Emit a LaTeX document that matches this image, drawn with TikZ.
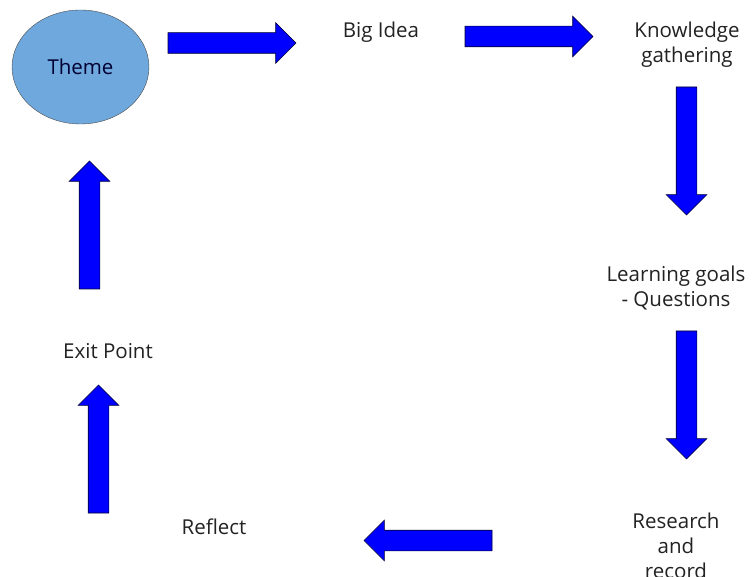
\documentclass[tikz,border=0pt]{standalone}
\usepackage{fontspec}
\setmainfont{Open Sans}
\usetikzlibrary{shapes.arrows,shapes.geometric}
\definecolor{themeblue}{HTML}{6FA8DC}
\definecolor{txtgray}{HTML}{222222}
\tikzset{
  stagetext/.style={text=txtgray, font=\fontsize{20.5}{25}\selectfont, align=center},
  blockarrow/.style={single arrow, fill=blue, draw=black!80!blue, line width=0.6pt,
    inner sep=10pt, outer sep=0pt, minimum width=40pt, single arrow head extend=10pt,
    single arrow tip angle=90, minimum height=128pt, anchor=tail}
}
\begin{document}
\begin{tikzpicture}[x=1pt,y=-1pt]
  \useasboundingbox (0,0) rectangle (753,577);
  \node[ellipse, draw=black!70, fill=themeblue, minimum width=137pt, minimum height=114pt, stagetext, text=black!80!blue] (theme) at (80.5,67) {Theme};
  \node[stagetext] (idea) at (381,32) {Big Idea};
  \node[stagetext] (know) at (687,45) {Knowledge\\gathering};
  \node[stagetext] (goals) at (676,288) {Learning goals\\- Questions};
  \node[stagetext] (research) at (676,546) {Research\\and\\record};
  \node[stagetext] (reflect) at (214,527) {Reflect};
  \node[stagetext] (exit) at (108,351) {Exit Point};
  \node[blockarrow] (a1) at (168,43) {};
  \node[blockarrow] (a2) at (465,36.5) {};
  \node[blockarrow, shape border rotate=270] (a3) at (686.5,87) {};
  \node[blockarrow, shape border rotate=270] (a4) at (686.5,331) {};
  \node[blockarrow, shape border rotate=180] (a5) at (492,540.5) {};
  \node[blockarrow, shape border rotate=90] (a6) at (98.5,513) {};
  \node[blockarrow, shape border rotate=90] (a7) at (89.5,289) {};
\end{tikzpicture}
\end{document}
